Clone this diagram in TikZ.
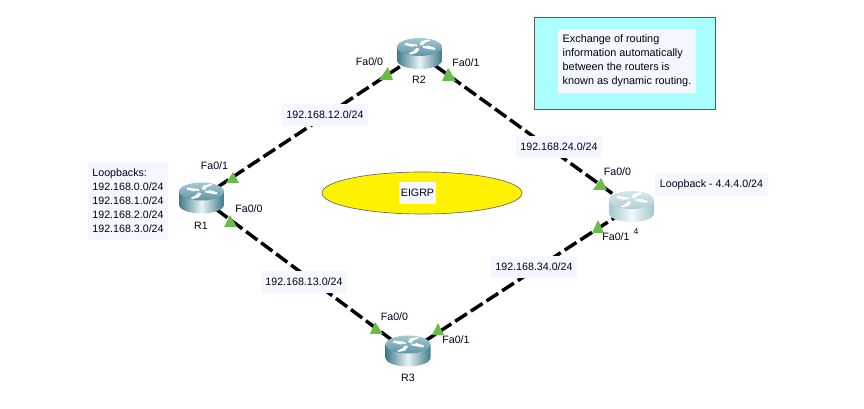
\documentclass[tikz,border=0pt]{standalone}
\usepackage{fontspec}
\setmainfont{Liberation Sans}
\usetikzlibrary{calc,shapes.geometric}
\definecolor{lblbg}{HTML}{F5F7FF}
\definecolor{trigreen}{HTML}{6ABB4A}
\definecolor{notecyan}{HTML}{AAFFFF}
\definecolor{rtopa}{HTML}{A5C8D4}
\definecolor{rtopb}{HTML}{5E95A6}
\definecolor{rdark}{HTML}{3F7A8A}
\definecolor{rlight}{HTML}{E8F3F5}
\definecolor{qtopa}{HTML}{D5E6EB}
\definecolor{qtopb}{HTML}{B4D0D8}
\definecolor{qdark}{HTML}{A4C6CF}
\definecolor{qlight}{HTML}{F2F8F9}
\tikzset{
  x=0.75pt,y=-0.75pt,
  every node/.style={font=\fontsize{8}{10.5}\selectfont,text=black!90!blue},
  lbl/.style={fill=lblbg,inner sep=0pt,minimum width=64.5pt,minimum height=16.5pt},
  plain/.style={inner sep=0pt},
  hub/.style={circle,inner sep=0pt,minimum size=0pt},
  wire/.style={line width=2.6pt,black,dash pattern=on 10.5pt off 3.5pt},
  tri/.style={fill=trigreen,draw=none},
}
% x, y, body dark, body light, top light, top dark
\newcommand{\routerbody}[6]{%
 \begin{scope}[shift={(#1,#2)}]
  \shade[left color=#3,right color=#3,middle color=#4]
    (-22.5,-7) -- (-22.5,6) .. controls (-22.5,11.5) and (-12,15) .. (0,15)
    .. controls (12,15) and (22.5,11.5) .. (22.5,6) -- (22.5,-7) -- cycle;
  \shade[top color=#5,bottom color=#6] (-22.5,-7)
    .. controls (-22.5,-12) and (-12,-16) .. (0,-16)
    .. controls (12,-16) and (22.5,-12) .. (22.5,-7)
    .. controls (22.5,-2) and (12,2) .. (0,2)
    .. controls (-12,2) and (-22.5,-2) .. (-22.5,-7) -- cycle;
  % four arrows on the top face
  \fill[white] (-14,-11) -- (-3,-9.5) -- (-2,-7.5) -- (-6,-8) -- (-7,-7) -- (-15,-9) -- cycle;
  \fill[white] (15,-4) -- (4,-6) -- (3,-8) -- (7,-7.5) -- (8,-8.5) -- (16,-6) -- cycle;
  \fill[white] (2,-13) -- (9,-14.5) -- (11,-13.5) -- (6,-11.5) -- (3,-8.5) -- (0,-9.5) -- cycle;
  \fill[white] (-3,-1) -- (-9,0.5) -- (-11,-0.5) -- (-6,-3) -- (-3,-6) -- (0,-5) -- cycle;
 \end{scope}}
\newcommand{\greentri}[6]{\fill[tri] (#1,#2) -- (#3,#4) -- (#5,#6) -- cycle;}
\begin{document}
\begin{tikzpicture}
\useasboundingbox (0,0) rectangle (864,409);
% hubs
\node[hub] (r1) at (201,198) {};
\node[hub] (r2) at (419,54) {};
\node[hub] (r3) at (408,352) {};
\node[hub] (r4) at (631,207) {};
% links
\draw[wire] (r1) -- (r2);
\draw[wire] (r2) -- (r4);
\draw[wire] (r1) -- (r3);
\draw[wire] (r3) -- (r4);
% routers
\routerbody{201.5}{198.5}{rdark}{rlight}{rtopa}{rtopb}
\routerbody{419.5}{54}{rdark}{rlight}{rtopa}{rtopb}
\routerbody{408}{351.5}{rdark}{rlight}{rtopa}{rtopb}
\routerbody{631.5}{207}{qdark}{qlight}{qtopa}{qtopb}
% triangles
\greentri{388}{67}{379}{80}{393}{80}
\greentri{448}{68}{442}{81}{456}{81}
\greentri{233}{172}{226}{183}{239}{183}
\greentri{230}{215}{224}{227}{237}{227}
\greentri{601}{178}{593}{190}{607}{190}
\greentri{598}{220}{592}{233}{604}{233}
\greentri{375}{322}{370}{334}{383}{334}
\greentri{438}{323}{432}{335}{444}{335}
% ellipse
\node[draw=black!60,line width=0.5pt,fill=yellow,ellipse,minimum width=150pt,minimum height=31.5pt,inner sep=0pt] (eig) at (422,193) {};
\node[fill=lblbg,inner sep=0pt,minimum width=27.75pt,minimum height=16.5pt] (eigt) at (417.5,193) {EIGRP};
% note
\node[draw=black!65,line width=1.1pt,fill=notecyan,minimum width=136pt,minimum height=69pt,inner sep=0pt] (note) at (625,63.5) {};
\node[fill=lblbg,inner sep=3pt,align=left,minimum width=103.5pt,minimum height=48pt,font=\fontsize{8.15}{10.5}\selectfont] (notet) at (627,61) {Exchange of routing\\information automatically\\between the routers is\\known as dynamic routing.};
% router names
\node[plain] (n1) at (201,225.5) {R1};
\node[plain] (n2) at (419,79.5) {R2};
\node[plain] (n3) at (408,378) {R3};
% port labels
\node[plain] (p1) at (369.5,62) {Fa0/0};
\node[plain] (p2) at (466,63) {Fa0/1};
\node[plain] (p3) at (214.5,166) {Fa0/1};
\node[plain] (p4) at (249,209) {Fa0/0};
\node[plain] (p5) at (617.5,172) {Fa0/0};
\node[plain] (p6) at (616,237) {Fa0/1};
\node[plain] (p7) at (394.5,317) {Fa0/0};
\node[plain] (p8) at (456,340) {Fa0/1};
\node[plain,font=\fontsize{6.5}{6.5}\selectfont] (p9) at (636,232) {4};
% network labels
\node[lbl] (l1) at (325,115) {192.168.12.0/24};
\node[lbl] (l2) at (559,147) {192.168.24.0/24};
\node[lbl] (l3) at (304,282) {192.168.13.0/24};
\node[lbl] (l4) at (534,267) {192.168.34.0/24};
\node[lbl,minimum width=84.75pt] (l5) at (711.5,185) {Loopback - 4.4.4.0/24};
\node[fill=lblbg,inner sep=0pt,minimum width=60pt,minimum height=58pt,align=left] (l6) at (128,201) {Loopbacks:\\192.168.0.0/24\\192.168.1.0/24\\192.168.2.0/24\\192.168.3.0/24};
\end{tikzpicture}
\end{document}
